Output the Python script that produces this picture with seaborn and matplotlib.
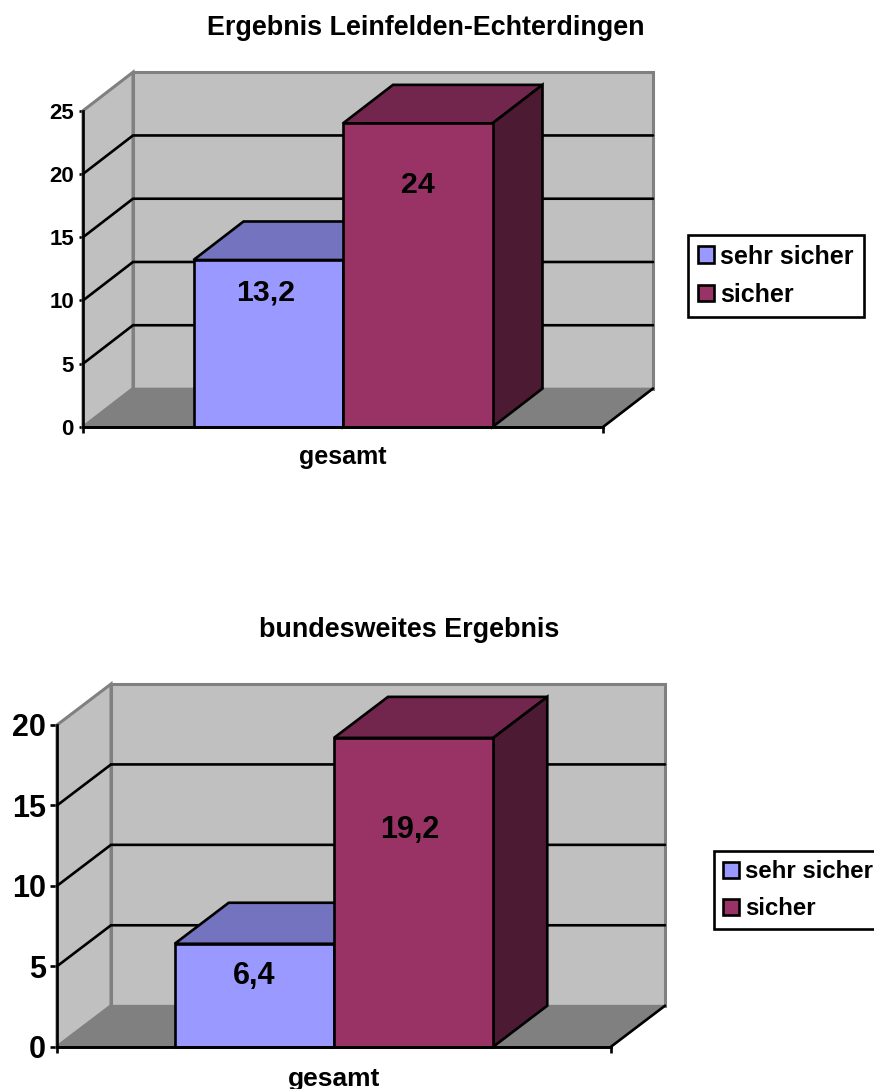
import matplotlib
matplotlib.use("Agg")
import matplotlib.pyplot as plt
import pandas as pd
import seaborn as sns
from matplotlib.patches import Polygon

sns.set_style("white")
plt.rcParams["font.family"] = ["Liberation Sans", "DejaVu Sans"]
plt.rcParams["font.weight"] = "bold"
plt.rcParams["text.color"] = "black"

W, H = 874, 1089
DPI = 100

# chart content
series_names = ["sehr sicher", "sicher"]
category = ["gesamt"]
local_title = "Ergebnis Leinfelden-Echterdingen"
local_values = [13.2, 24]
local_ticks = [0, 5, 10, 15, 20, 25]
national_title = "bundesweites Ergebnis"
national_values = [6.4, 19.2]
national_ticks = [0, 5, 10, 15, 20]

FRONT = ["#9999FF", "#993366"]
TOP = ["#7373BF", "#73264D"]
SIDE = ["#4D4D80", "#4D1A33"]
WALL = "#C0C0C0"
FLOOR = "#808080"
EDGE = "#808080"
LW = 1.9


def px_box(left, top, right, bottom):
    return [left / W, 1 - bottom / H, (right - left) / W, (bottom - top) / H]


def draw_panel(fig, values, ticks, title, box, depth, fonts, title_xy, label_drops, label_shifts,
               legend_xy, tick_len, tick_pad, xlabel_pad):
    ax = fig.add_axes(px_box(*box))
    frame = pd.DataFrame({
        "category": category * len(values),
        "series": series_names,
        "value": values,
    })
    sns.barplot(data=frame, x="category", y="value", hue="series", hue_order=series_names,
                palette=FRONT, width=0.575, gap=0, saturation=1, edgecolor="black",
                linewidth=LW, legend=False, ax=ax, zorder=6)
    ymax = ticks[-1]
    ax.set_xlim(-0.5, 0.5)
    ax.set_ylim(0, ymax)
    ax.patch.set_visible(False)

    # receding depth expressed in data units
    dx = depth[0] / (box[2] - box[0])
    dy = depth[1] / (box[3] - box[1]) * ymax
    x0, x1 = -0.5, 0.5

    def face(points, color, edge="black", z=1, lw=LW):
        ax.add_patch(Polygon(points, closed=True, facecolor=color, edgecolor=edge,
                             linewidth=lw, zorder=z, clip_on=False, joinstyle="miter"))

    face([(x0 + dx, dy), (x1 + dx, dy), (x1 + dx, ymax + dy), (x0 + dx, ymax + dy)], WALL, EDGE, 1, 2.2)
    face([(x0, 0), (x0 + dx, dy), (x0 + dx, ymax + dy), (x0, ymax)], WALL, EDGE, 1, 2.2)
    face([(x0, 0), (x1, 0), (x1 + dx, dy), (x0 + dx, dy)], FLOOR, EDGE, 1.5, 1.2)

    for t in ticks[1:-1]:
        ax.plot([x0, x0 + dx, x1 + dx], [t, t + dy, t + dy], color="black", lw=LW,
                zorder=2, clip_on=False, solid_joinstyle="miter")
    ax.plot([x0, x1], [0, 0], color="black", lw=LW, zorder=5, clip_on=False)
    ax.plot([x1, x1 + dx], [0, dy], color="black", lw=LW, zorder=2, clip_on=False)

    # top and side faces of every bar, built from the bars themselves
    for i, container in enumerate(ax.containers):
        bar = container.patches[0]
        a, b, h = bar.get_x(), bar.get_x() + bar.get_width(), bar.get_height()
        face([(a, h), (b, h), (b + dx, h + dy), (a + dx, h + dy)], TOP[i], z=3 + i)
        face([(b, 0), (b + dx, dy), (b + dx, h + dy), (b, h)], SIDE[i], z=3 + i)
        bar.set_zorder(3.5 + i)
        bar.set_clip_on(False)
        text = f"{values[i]:g}".replace(".", ",")
        labels = ax.bar_label(container, labels=[text], padding=-label_drops[i],
                              fontsize=fonts["data"], fontweight="bold", color="black",
                              zorder=8, label_type="edge")
        labels[0].xyann = (label_shifts[i] * 0.72, labels[0].xyann[1])

    # axis furniture
    for side in ("top", "right"):
        ax.spines[side].set_visible(False)
    for side in ("left", "bottom"):
        ax.spines[side].set_color("black")
        ax.spines[side].set_linewidth(LW)
        ax.spines[side].set_zorder(7)
    ax.set_yticks(ticks)
    ax.tick_params(axis="y", left=True, length=tick_len * 0.72, width=LW, color="black",
                   pad=tick_pad * 0.72, labelsize=fonts["tick"])
    ax.set_xticks([0], category)
    ax.set_xticks([x0, x1], minor=True)
    ax.tick_params(axis="x", which="major", bottom=False, length=0, pad=xlabel_pad * 0.72,
                   labelsize=fonts["xlabel"])
    ax.tick_params(axis="x", which="minor", bottom=True, length=6 * 0.72, width=LW, color="black")
    ax.set_xlabel("")
    ax.set_ylabel("")
    for lab in ax.get_yticklabels() + ax.get_xticklabels():
        lab.set_fontweight("bold")
        lab.set_color("black")

    fig.text(title_xy[0] / W, 1 - title_xy[1] / H, title, ha="center", va="center",
             fontsize=19.4, fontweight="bold", color="black")

    handles = [c.patches[0] for c in ax.containers]
    leg = fig.legend(handles, series_names, loc="upper left",
                     bbox_to_anchor=(legend_xy[0] / W, 1 - legend_xy[1] / H),
                     bbox_transform=fig.transFigure, borderaxespad=0, frameon=True,
                     fancybox=False, framealpha=1, edgecolor="black",
                     prop={"size": fonts["legend"], "weight": "bold", "family": "Liberation Sans"},
                     handlelength=0.64, handleheight=0.64, handletextpad=0.28,
                     labelspacing=0.58, borderpad=0.38)
    leg.get_frame().set_linewidth(LW)
    leg.set_zorder(10)
    return ax


fig = plt.figure(figsize=(W / DPI, H / DPI), dpi=DPI, facecolor="white")

draw_panel(fig, local_values, local_ticks, local_title,
           box=(83, 110.7, 603, 427), depth=(50, 38.5),
           fonts={"data": 21.8, "tick": 16, "xlabel": 18, "legend": 18},
           title_xy=(425.5, 28), label_drops=(33.7, 54.8), label_shifts=(-2.5, 0),
           legend_xy=(688, 235), tick_len=4, tick_pad=5, xlabel_pad=18)

draw_panel(fig, national_values, national_ticks, national_title,
           box=(57, 725, 611, 1046.7), depth=(54, 41),
           fonts={"data": 22, "tick": 22, "xlabel": 19, "legend": 17.3},
           title_xy=(409.5, 630), label_drops=(34, 77), label_shifts=(0, -4),
           legend_xy=(714, 851), tick_len=7, tick_pad=4, xlabel_pad=20)

fig.savefig("out.png", dpi=DPI, facecolor="white")
